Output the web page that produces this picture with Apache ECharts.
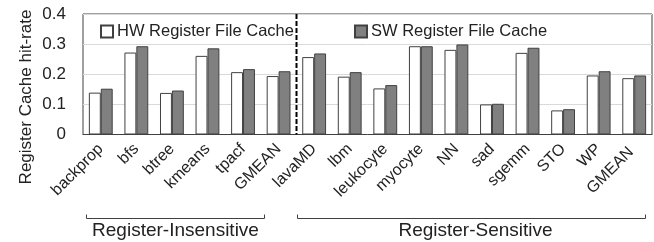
<!DOCTYPE html>
<html>
<head>
<meta charset="utf-8">
<script src="https://cdn.jsdelivr.net/npm/echarts@6/dist/echarts.min.js"></script>
<style>
  html, body { margin: 0; padding: 0; background: #fff; }
  #chart { width: 654px; height: 242px; }
</style>
</head>
<body>
<div id="chart"></div>
<script>
// benchmarks, first 6 are register-insensitive, rest register-sensitive
const categories = ['backprop', 'bfs', 'btree', 'kmeans', 'tpacf', 'GMEAN',
  'lavaMD', 'lbm', 'leukocyte', 'myocyte', 'NN', 'sad', 'sgemm', 'STO', 'WP', 'GMEAN ']
const hwHitRate = [0.139, 0.272, 0.138, 0.261, 0.207, 0.194,
  0.257, 0.192, 0.153, 0.293, 0.281, 0.100, 0.271, 0.080, 0.196, 0.187]
const swHitRate = [0.152, 0.293, 0.146, 0.286, 0.217, 0.210,
  0.269, 0.207, 0.164, 0.293, 0.299, 0.102, 0.288, 0.084, 0.210, 0.196]
const yTicks = [0, 0.1, 0.2, 0.3, 0.4]
const groupLabels = ['Register-Insensitive', 'Register-Sensitive']
const splitIndex = 6  // first sensitive benchmark

const FONT = '"Liberation Sans", Arial, sans-serif'
const TXT = '#222'

const chart = echarts.init(document.getElementById('chart'))

chart.setOption({
  animation: false,
  textStyle: { fontFamily: FONT },
  grid: {
    left: 83, right: 2, top: 14, bottom: 107.5,
    show: true, borderColor: '#404040', borderWidth: 1
  },
  legend: [
    {
      data: ['HW Register File Cache'], left: 95, top: 18,
      icon: 'rect', itemWidth: 12, itemHeight: 12, itemGap: 0,
      textStyle: { fontFamily: FONT, fontSize: 16.5, color: TXT, padding: [0, 0, 0, -1] }
    },
    {
      data: ['SW Register File Cache'], left: 349, top: 18,
      icon: 'rect', itemWidth: 12, itemHeight: 12, itemGap: 0,
      textStyle: { fontFamily: FONT, fontSize: 16.5, color: TXT, padding: [0, 0, 0, -1] }
    }
  ],
  xAxis: {
    type: 'category',
    data: categories,
    axisTick: { show: false },
    axisLine: { lineStyle: { color: '#404040', width: 1 } },
    axisLabel: {
      rotate: 45, interval: 0, margin: 12,
      fontSize: 16, color: TXT, fontFamily: FONT
    }
  },
  yAxis: {
    type: 'value',
    min: yTicks[0], max: yTicks[yTicks.length - 1], interval: 0.1,
    axisLine: { show: false },
    axisTick: { show: false },
    axisLabel: { fontSize: 17, color: TXT, margin: 17, fontFamily: FONT },
    splitLine: { lineStyle: { color: '#d9d9d9', width: 1 } }
  },
  series: [
    {
      name: 'HW Register File Cache', type: 'bar', data: hwHitRate,
      barGap: '0%', barCategoryGap: '33%',
      itemStyle: { color: '#ffffff', borderColor: '#404040', borderWidth: 1 }
    },
    {
      name: 'SW Register File Cache', type: 'bar', data: swHitRate,
      itemStyle: { color: '#808080', borderColor: '#404040', borderWidth: 1 }
    }
  ]
})

// annotations placed from the axis scales: y title, divider, group brackets
function drawAnnotations() {
  const px = i => chart.convertToPixel({ xAxisIndex: 0 }, i)
  const py = v => chart.convertToPixel({ yAxisIndex: 0 }, v)
  const halfBand = (px(1) - px(0)) / 2
  const divX = Math.round(px(splitIndex) - halfBand) + 0.5
  const yTop = py(yTicks[yTicks.length - 1])
  const yBot = py(0)
  const brY = 218.5

  const brackets = [
    [px(0) - 15, px(splitIndex - 1) - 14.5, 0],
    [divX, px(categories.length - 1) + 10.5, 4]
  ]

  const g = [
    {
      type: 'text', x: 26, y: 97, rotation: Math.PI / 2,
      style: {
        text: 'Register Cache hit-rate', fontSize: 17, fontFamily: FONT, fill: TXT,
        align: 'center', verticalAlign: 'middle'
      }
    },
    {
      type: 'line',
      shape: { x1: divX, y1: yTop, x2: divX, y2: yBot },
      style: { stroke: '#000', lineWidth: 2, lineDash: [5, 2] },
      z: 10
    }
  ]
  brackets.forEach(([a, b, shift], k) => {
    a = Math.round(a) + 0.5
    b = Math.round(b) + 0.5
    g.push({
      type: 'polyline',
      shape: { points: [[a, brY - 4], [a, brY], [b, brY], [b, brY - 4]] },
      style: { stroke: '#404040', lineWidth: 1, fill: null }
    })
    g.push({
      type: 'text', x: (a + b) / 2 + shift, y: 231,
      style: {
        text: groupLabels[k], fontSize: 19, fontFamily: FONT, fill: TXT,
        align: 'center', verticalAlign: 'middle'
      }
    })
  })
  chart.setOption({ graphic: g })
}
drawAnnotations()

window.addEventListener('resize', () => {
  chart.resize()
  drawAnnotations()
})
</script>
</body>
</html>
